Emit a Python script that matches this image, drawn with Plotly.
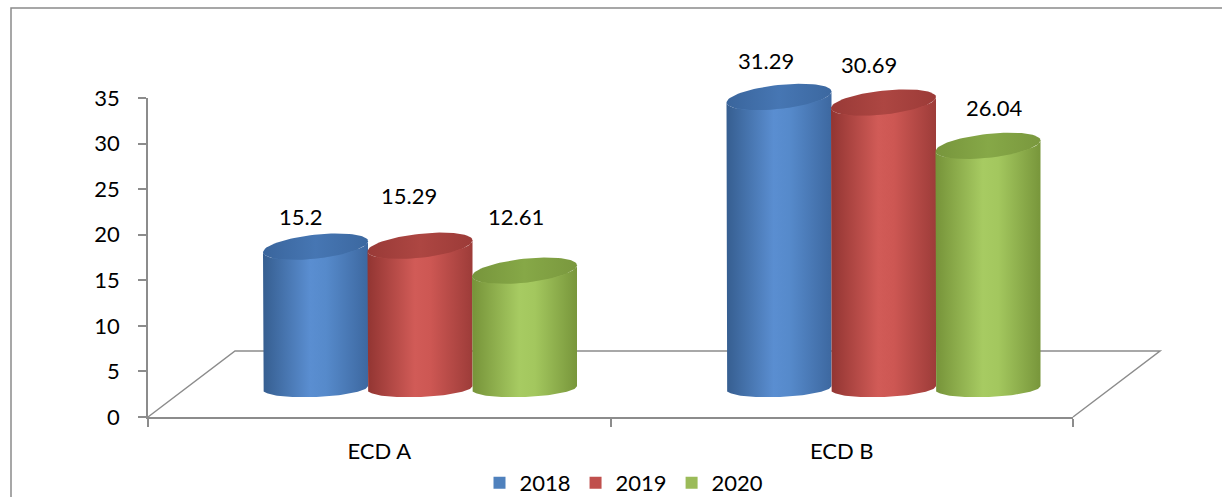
import numpy as np
import plotly.graph_objects as go

# ---- data ----
categories = ["ECD A", "ECD B"]
series_names = ["2018", "2019", "2020"]
values_2018 = [15.2, 31.29]
values_2019 = [15.29, 30.69]
values_2020 = [12.61, 26.04]
y_ticks = [0, 5, 10, 15, 20, 25, 30, 35]

series_values = [values_2018, values_2019, values_2020]

# ---- styling ----
FONT = "Lato, 'Open Sans', sans-serif"
FONT_SIZE = 22
GRID = "#8c8c8c"
legend_colors = ["#4F81BD", "#C0504D", "#9BBB59"]
body_scales = [
    [[0, "#365e90"], [0.45, "#5a8ed1"], [0.6, "#568acb"], [1, "#3d68a0"]],
    [[0, "#923532"], [0.45, "#d15b57"], [0.6, "#cd5753"], [1, "#9d3c39"]],
    [[0, "#769339"], [0.45, "#a7cb62"], [0.6, "#a3c75e"], [1, "#78963b"]],
]
cap_scales = [
    [[0, "#3a659c"], [0.5, "#4676b3"], [1, "#3c68a0"]],
    [[0, "#993a37"], [0.5, "#ad4642"], [1, "#9c3b38"]],
    [[0, "#77953c"], [0.5, "#86a847"], [1, "#7a983e"]],
]
# per-label pixel nudges (dx, lift above the cap centre), series x category
label_dx = [[-15, -13], [-11, -15], [-9, 6]]
label_lift = [[30, 37], [50, 38], [54, 38]]

W, H = 1222, 497


def fx(p):
    return p / W


def fy(p):
    return 1 - p / H


# frame of the value / category axes, in pixels
ax_left, ax_right = 148, 1073
ax_top, ax_bottom = 98, 417
depth_dx, depth_dy = 87, 66

# cylinder space: a full-page subplot (x2 / y2)
step_px = 463.5          # pixels between category centres
first_px = 420           # pixel x of the first category's cylinder group
unit_y = 9.3             # pixels per value unit
base_px = 388            # pixel y of the cylinder bases
x2_range = [(0 - first_px) / step_px, (W - first_px) / step_px]
y2_range = [-(H - base_px) / unit_y, base_px / unit_y]

col_px = 104.5           # spacing of cylinders inside a group
rad_px = 52.5            # cylinder radius on screen
a = rad_px / step_px
b_top, s_top = 12 / unit_y, 5.5 / unit_y
b_bot, s_bot = 9 / unit_y, 2 / unit_y


def arc(cx, cy, b, s, t0, t1, n=80):
    t = np.linspace(t0, t1, n)
    return cx + a * np.cos(t), cy + b * np.sin(t) + s * np.cos(t)


fig = go.Figure()

# bars (flat colours, also provide the legend swatches)
for k, (name, vals) in enumerate(zip(series_names, series_values)):
    off = (k - 1) * col_px / step_px
    fig.add_trace(go.Bar(
        x=[i + off for i in range(len(categories))], y=vals, base=0,
        width=1.8 * a * 0.9, name=name, marker_color=legend_colors[k],
        marker_line_width=0, xaxis="x2", yaxis="y2", hoverinfo="skip",
    ))

# cylinder shading drawn over each bar
for k, vals in enumerate(series_values):
    off = (k - 1) * col_px / step_px
    for i, v in enumerate(vals):
        cx = i + off
        bx, by = arc(cx, 0, b_bot, s_bot, np.pi, 2 * np.pi)
        tx, ty = arc(cx, v, b_top, s_top, 2 * np.pi, np.pi)
        xs = np.concatenate([[cx - a], bx, [cx + a], tx])
        ys = np.concatenate([[v - s_top], by, [v + s_top], ty])
        fig.add_trace(go.Scatter(
            x=xs, y=ys, mode="lines", line=dict(width=0), fill="toself",
            fillgradient=dict(type="horizontal", colorscale=body_scales[k],
                              start=cx - a, stop=cx + a),
            xaxis="x2", yaxis="y2", showlegend=False, hoverinfo="skip",
        ))
        ex, ey = arc(cx, v, b_top, s_top, 0, 2 * np.pi)
        fig.add_trace(go.Scatter(
            x=ex, y=ey, mode="lines", line=dict(width=0), fill="toself",
            fillgradient=dict(type="horizontal", colorscale=cap_scales[k],
                              start=cx - a, stop=cx + a),
            xaxis="x2", yaxis="y2", showlegend=False, hoverinfo="skip",
        ))
        fig.add_annotation(
            x=cx, y=v, xref="x2", yref="y2", text=str(v), showarrow=False,
            xshift=label_dx[k][i], yshift=label_lift[k][i],
            xanchor="center", yanchor="middle",
            font=dict(family=FONT, size=FONT_SIZE, color="#000000"),
        )

# category anchor for the front axis
fig.add_trace(go.Scatter(
    x=categories, y=[0, 0], mode="markers", marker=dict(opacity=0),
    xaxis="x", yaxis="y", showlegend=False, hoverinfo="skip",
))

# floor outline and chart border
floor_path = (
    f"M {fx(ax_left)},{fy(ax_bottom)} "
    f"L {fx(ax_left + depth_dx)},{fy(ax_bottom - depth_dy)} "
    f"L {fx(ax_right + depth_dx)},{fy(ax_bottom - depth_dy)} "
    f"L {fx(ax_right)},{fy(ax_bottom)}"
)
fig.add_shape(type="path", path=floor_path, xref="paper", yref="paper",
              line=dict(color=GRID, width=1.5), layer="below")
fig.add_shape(type="rect", xref="paper", yref="paper",
              x0=fx(11), x1=1.05, y0=-0.05, y1=fy(8),
              line=dict(color="#8a8a8a", width=1.5), layer="below")

tick_font = dict(family=FONT, size=FONT_SIZE, color="#000000")

fig.update_layout(
    width=W, height=H,
    margin=dict(l=0, r=0, t=0, b=0, autoexpand=False),
    paper_bgcolor="white", plot_bgcolor="rgba(0,0,0,0)",
    barmode="overlay",
    font=dict(family=FONT, size=FONT_SIZE, color="#000000"),
    xaxis=dict(
        domain=[fx(ax_left), fx(ax_right)], anchor="y",
        type="category", categoryorder="array", categoryarray=categories,
        range=[-0.5, 1.5], tickson="boundaries", ticks="outside",
        ticklen=8, tickcolor=GRID, tickwidth=1.5,
        showline=True, linecolor=GRID, linewidth=1.5,
        showgrid=False, zeroline=False, ticklabelstandoff=14,
        tickfont=tick_font, automargin=False,
    ),
    yaxis=dict(
        domain=[fy(ax_bottom), fy(ax_top)], anchor="x",
        range=[0, 35], tickvals=y_ticks, ticks="outside",
        ticklen=8, tickcolor=GRID, tickwidth=1.5,
        showline=True, linecolor=GRID, linewidth=1.5,
        showgrid=False, zeroline=False, ticklabelstandoff=14,
        tickfont=tick_font, automargin=False,
    ),
    xaxis2=dict(domain=[0, 1], anchor="y2", range=x2_range, visible=False),
    yaxis2=dict(domain=[0, 1], anchor="x2", range=y2_range, visible=False),
    legend=dict(
        orientation="h", x=fx(624), y=fy(483), xanchor="center",
        yanchor="middle", font=tick_font,
        bgcolor="rgba(0,0,0,0)", itemclick=False, itemdoubleclick=False,
    ),
    showlegend=True,
)

fig.write_html("out.html", config={"displayModeBar": False})
